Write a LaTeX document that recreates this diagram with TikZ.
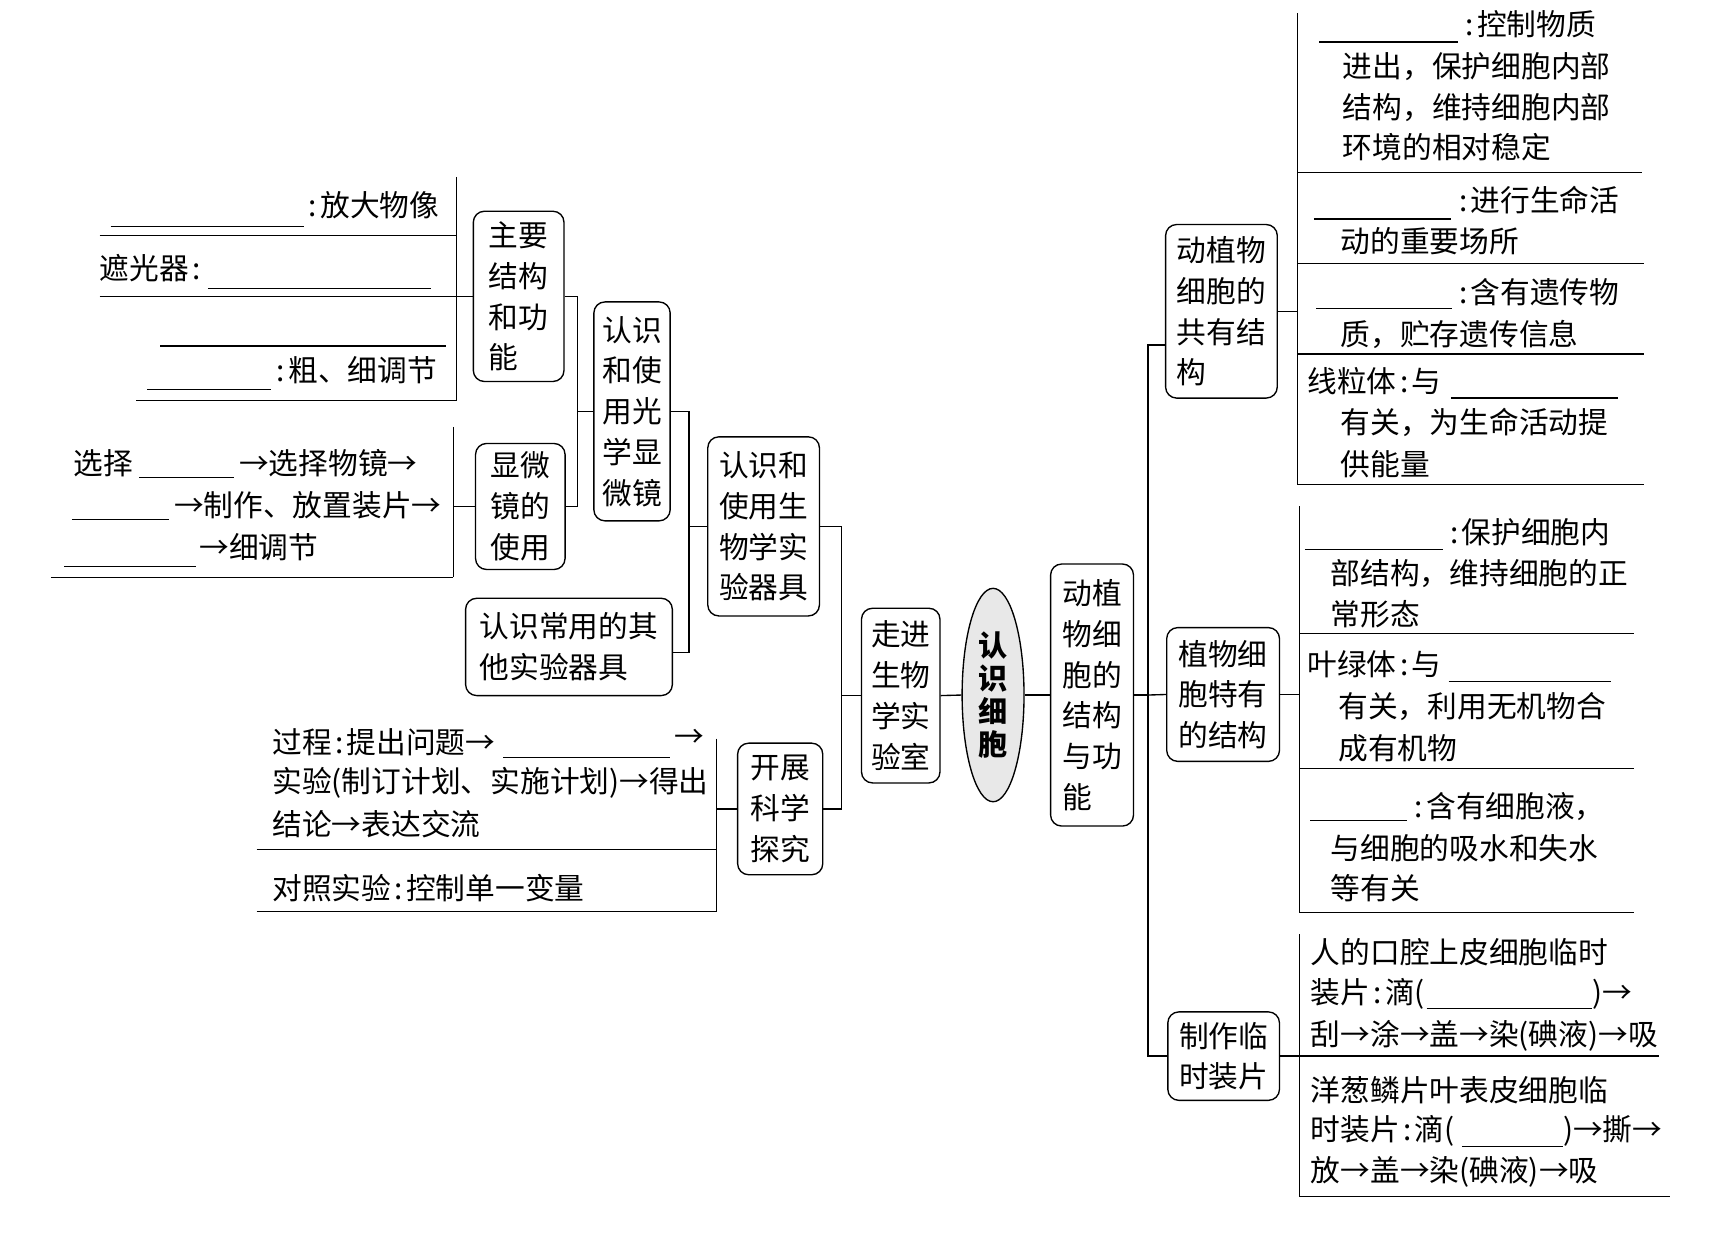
\documentclass[tikz,border=0pt]{standalone}
\usepackage{fontspec}
\setmainfont{Noto Sans CJK SC}
\usetikzlibrary{shapes.geometric}
\newcommand\mycolon{\makebox[0.5em][c]{:}}
\tikzset{
 box/.style={draw, rounded corners=0.2cm, line width=0.7pt, align=left, inner sep=0pt, font=\fontsize{15.3}{21}\selectfont},
 txt/.style={anchor=west, inner sep=0pt, font=\fontsize{15.3}{21}\selectfont},
 ln/.style={line width=0.7pt},
 blank/.style={line width=0.7pt},
}
\begin{document}
\begin{tikzpicture}[x=0.02cm,y=-0.02cm]
\fill[white] (0,0) rectangle (1568,1125);
\useasboundingbox (0,0) rectangle (1568,1125);

% ---------- boxes ----------
\node[box, minimum width=1.64cm, minimum height=3.08cm] (zhuyao) at (469,268) {主要\\结构\\和功\\能};
\node[box, minimum width=1.62cm, minimum height=2.28cm] (xianwei) at (470.5,458) {显微\\镜的\\使用};
\node[box, minimum width=1.38cm, minimum height=3.96cm] (guangxue) at (571.5,372) {认识\\和使\\用光\\学显\\微镜};
\node[box, minimum width=3.74cm, minimum height=1.76cm] (changyong) at (514.5,585) {认识常用的其\\他实验器具};
\node[box, minimum width=2.02cm, minimum height=3.24cm] (qiju) at (690.5,476) {认识和\\使用生\\物学实\\验器具};
\node[box, minimum width=1.54cm, minimum height=2.38cm] (kaizhan) at (705.5,731.5) {开展\\科学\\探究};
\node[box, minimum width=1.42cm, minimum height=3.16cm] (zoujin) at (814.5,629) {走进\\生物\\学实\\验室};
\node[ellipse, draw, line width=0.7pt, fill=gray!18, minimum width=1.12cm, minimum height=3.86cm, inner sep=0pt, align=center, font=\bfseries\fontsize{15}{17}\selectfont] (center) at (898,628.5) {认\\识\\细\\胞};
\node[box, minimum width=1.5cm, minimum height=4.74cm] (jiegou) at (987.5,628.5) {动植\\物细\\胞的\\结构\\与功\\能};
\node[box, minimum width=2.02cm, minimum height=3.14cm] (gongyou) at (1104.5,281.5) {动植物\\细胞的\\共有结\\构};
\node[box, minimum width=2.04cm, minimum height=2.42cm] (teyou) at (1106,628) {植物细\\胞特有\\的结构};
\node[box, minimum width=2.02cm, minimum height=1.6cm] (linshi) at (1106.5,955) {制作临\\时装片};

% ---------- connectors (tree) ----------
\coordinate (k1) at (522,372);
\draw[ln] (zhuyao.east) -- (zhuyao.east -| k1) -- (xianwei.east -| k1) -- (xianwei.east);
\draw[ln] (k1) -- (guangxue.west);
\coordinate (k2) at (623,476);
\coordinate (k2b) at (623,590);
\draw[ln] (guangxue.east) -- (guangxue.east -| k2) -- (k2b) -- (k2b -| changyong.east);
\draw[ln] (k2) -- (qiju.west);
\coordinate (k3) at (761,629);
\draw[ln] (qiju.east) -- (qiju.east -| k3) -- (kaizhan.east -| k3) -- (kaizhan.east);
\draw[ln] (k3) -- (zoujin.west);
\draw[ln] (zoujin.east) -- (center.west);
\draw[ln] (center.east) -- (jiegou.west);
\coordinate (k4) at (1038,628.5);
\coordinate (k4a) at (1038,312);
\draw[ln] (jiegou.east) -- (k4);
\draw[ln] (k4a -| gongyou.west) -- (k4a) -- (linshi.west -| k4a) -- (linshi.west);
\draw[ln] (k4) -- (teyou.west);

% ---------- left top group ----------
\coordinate (g1) at (413,268);
\draw[ln] (413,160) -- (413,362);
\draw[ln] (zhuyao.west) -- (g1);
\draw[ln] (90,213) -- (413,213);
\draw[ln] (90,268) -- (g1);
\draw[ln] (123,362) -- (413,362);
\draw[blank] (100,205) -- (275,205);
\node[txt] (tA) at (276,186) {\mycolon 放大物像};
\node[txt] (tB) at (90,242) {遮光器\mycolon};
\draw[blank] (188,261) -- (390,261);
\draw[blank] (145,313) -- (403,313);
\draw[blank] (133,352) -- (245,352);
\node[txt] (tC) at (247,335) {\mycolon 粗、细调节};

% ---------- left middle group ----------
\coordinate (g2) at (410,457);
\draw[ln] (410,386) -- (410,522);
\draw[ln] (xianwei.west) -- (xianwei.west -| g2);
\draw[ln] (46,522) -- (410,522);
\node[txt] (tD) at (66,419) {选择};
\draw[blank] (126,432) -- (212,432);
\node[txt] (tE) at (216,419) {→选择物镜→};
\draw[blank] (65,470) -- (153,470);
\node[txt] (tF) at (157,457) {→制作、放置装片→};
\draw[blank] (58,512) -- (177,512);
\node[txt] (tG) at (180,495) {→细调节};

% ---------- left bottom group ----------
\coordinate (g3) at (648,732);
\draw[ln] (648,668) -- (648,824);
\draw[ln] (kaizhan.west) -- (kaizhan.west -| g3);
\node[txt] (tH) at (246,671) {过程\mycolon 提出问题→};
\draw[blank] (455,685) -- (606,685);
\node[txt] (tH2) at (610,668) {→};
\node[txt] (tI) at (246,708) {实验(制订计划、实施计划)→得出};
\node[txt] (tJ) at (246,745) {结论→表达交流};
\draw[ln] (232,768) -- (648,768);
\node[txt] (tK) at (246,803) {对照实验\mycolon 控制单一变量};
\draw[ln] (232,824) -- (648,824);

% ---------- right group 1 ----------
\coordinate (r1) at (1173,281.5);
\draw[ln] (1173,12) -- (1173,438);
\draw[ln] (gongyou.east) -- (gongyou.east -| r1);
\draw[blank] (1193,38) -- (1318,38);
\node[txt] (tL) at (1322,22) {\mycolon 控制物质};
\node[txt] (tM) at (1214,60) {进出，保护细胞内部};
\node[txt] (tN) at (1214,97) {结构，维持细胞内部};
\node[txt] (tO) at (1214,133) {环境的相对稳定};
\draw[ln] (1173,156) -- (1485,156);
\draw[blank] (1188,198) -- (1312,198);
\node[txt] (tP) at (1316,181) {\mycolon 进行生命活};
\node[txt] (tQ) at (1212,218) {动的重要场所};
\draw[ln] (1173,238) -- (1487,238);
\draw[blank] (1190,279) -- (1313,279);
\node[txt] (tR) at (1316,264) {\mycolon 含有遗传物};
\node[txt] (tS) at (1212,302) {质，贮存遗传信息};
\draw[ln] (1173,320) -- (1487,320);
\node[txt] (tT) at (1182,345) {线粒体\mycolon 与};
\draw[blank] (1312,360) -- (1463,360);
\node[txt] (tU) at (1212,382) {有关，为生命活动提};
\node[txt] (tV) at (1212,420) {供能量};
\draw[ln] (1173,438) -- (1487,438);

% ---------- right group 2 ----------
\coordinate (r2) at (1175,628);
\draw[ln] (1175,458) -- (1175,825);
\draw[ln] (teyou.east) -- (teyou.east -| r2);
\draw[blank] (1180,497) -- (1305,497);
\node[txt] (tW) at (1308,481) {\mycolon 保护细胞内};
\node[txt] (tX) at (1203,519) {部结构，维持细胞的正};
\node[txt] (tY) at (1203,555) {常形态};
\draw[ln] (1175,573) -- (1478,573);
\node[txt] (tZ) at (1182,601) {叶绿体\mycolon 与};
\draw[blank] (1310,616) -- (1457,616);
\node[txt] (tAA) at (1210,639) {有关，利用无机物合};
\node[txt] (tAB) at (1210,677) {成有机物};
\draw[ln] (1175,695) -- (1478,695);
\draw[blank] (1185,742) -- (1272,742);
\node[txt] (tAC) at (1276,729) {\mycolon 含有细胞液，};
\node[txt] (tAD) at (1203,767) {与细胞的吸水和失水};
\node[txt] (tAE) at (1203,803) {等有关};
\draw[ln] (1175,825) -- (1478,825);

% ---------- right group 3 ----------
\coordinate (r3) at (1175,955);
\draw[ln] (1175,845) -- (1175,1082);
\draw[ln] (linshi.east) -- (linshi.east -| r3);
\node[txt] (tAF) at (1185,861) {人的口腔上皮细胞临时};
\node[txt] (tAG) at (1185,899) {装片\mycolon 滴(};
\draw[blank] (1290,912) -- (1440,912);
\node[txt] (tAH) at (1440,899) {)→};
\node[txt] (tAI) at (1185,937) {刮→涂→盖→染(碘液)→吸};
\draw[ln] (1175,955) -- (1500,955);
\node[txt] (tAJ) at (1185,986) {洋葱鳞片叶表皮细胞临};
\node[txt] (tAK) at (1185,1023) {时装片\mycolon 滴(};
\draw[blank] (1322,1037) -- (1413,1037);
\node[txt] (tAL) at (1413,1023) {)→撕→};
\node[txt] (tAM) at (1185,1060) {放→盖→染(碘液)→吸};
\draw[ln] (1175,1082) -- (1510,1082);
\end{tikzpicture}
\end{document}
